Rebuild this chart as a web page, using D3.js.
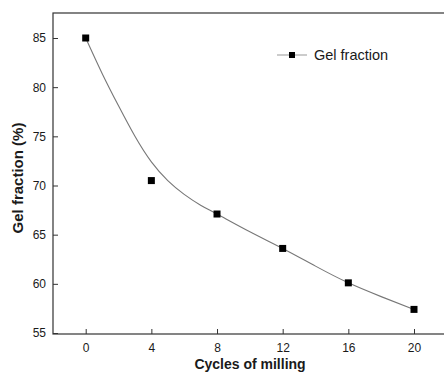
<!doctype html>
<html>
<head>
<script src="https://d3js.org/d3.v7.min.js"></script>
<style>
  body { margin: 0; background: #fff; }
  text { font-family: "Liberation Sans", Arial, sans-serif; fill: #1a1a1a; }
  .frame { fill: none; stroke: #333; stroke-width: 1.2; }
  .fit { fill: none; stroke: #777; stroke-width: 1.1; }
  .pt { fill: #000; }
</style>
</head>
<body>
<svg width="444" height="376"></svg>
<script>
// measured points
var cycles = [0, 4, 8, 12, 16, 20];
var gel = [85, 70.5, 67.1, 63.6, 60.1, 57.4];
// fitted curve
var fitX = [0, 1, 2, 3, 4, 5, 6, 7, 8, 10, 12, 14, 16, 18, 20];
var fitY = [85, 81.4, 78.1, 75.0, 72.4, 70.5, 69.1, 68.0, 67.1, 65.3, 63.6, 61.8, 60.1, 58.7, 57.4];
var xTicks = [0, 4, 8, 12, 16, 20];
var yTicks = [55, 60, 65, 70, 75, 80, 85];

var svg = d3.select("svg");
var mLeft = 53, mTop = 13, mBottom = 334, mRight = 446;

var x = d3.scaleLinear().domain([0, 20]).range([85.7, 414]);
var y = d3.scaleLinear().domain([55, 85]).range([333, 38]);

svg.append("rect").attr("class", "frame")
  .attr("x", mLeft).attr("y", mTop)
  .attr("width", mRight - mLeft).attr("height", mBottom - mTop);

// y axis, ticks inward
var ya = svg.append("g").attr("transform", "translate(" + mLeft + ",0)")
  .call(d3.axisRight(y).tickValues(yTicks).tickSize(5).tickFormat(d3.format("d")));
ya.select(".domain").remove();
ya.selectAll("line").attr("stroke", "#333");
ya.selectAll("text").attr("x", -7).attr("text-anchor", "end")
  .style("font-size", "12px");

// x axis, ticks inward
var xa = svg.append("g").attr("transform", "translate(0," + mBottom + ")")
  .call(d3.axisTop(x).tickValues(xTicks).tickSize(5).tickFormat(d3.format("d")));
xa.select(".domain").remove();
xa.selectAll("line").attr("stroke", "#333");
xa.selectAll("text").attr("y", 18).attr("dy", "0").style("font-size", "12px");

svg.append("text").attr("x", 250).attr("y", 369)
  .attr("text-anchor", "middle").style("font-size", "14px").style("font-weight", "bold")
  .text("Cycles of milling");
svg.append("text").attr("transform", "translate(23,178) rotate(-90)")
  .attr("text-anchor", "middle").style("font-size", "15px").style("font-weight", "bold")
  .text("Gel fraction (%)");

var line = d3.line().x(d => x(d[0])).y(d => y(d[1])).curve(d3.curveNatural);
svg.append("path").attr("class", "fit").attr("d", line(d3.zip(fitX, fitY)));

svg.selectAll("rect.pt").data(d3.zip(cycles, gel)).enter()
  .append("rect").attr("class", "pt")
  .attr("x", d => x(d[0]) - 3.5).attr("y", d => y(d[1]) - 3.5)
  .attr("width", 7).attr("height", 7);

// legend
var lg = svg.append("g").attr("transform", "translate(277,55)");
lg.append("line").attr("x1", 0).attr("x2", 30).attr("y1", 0).attr("y2", 0)
  .attr("stroke", "#999").attr("stroke-width", 1);
lg.append("rect").attr("class", "pt").attr("x", 12).attr("y", -3).attr("width", 6).attr("height", 6);
lg.append("text").attr("x", 37).attr("y", 5).style("font-size", "14.5px").text("Gel fraction");
</script>
</body>
</html>
